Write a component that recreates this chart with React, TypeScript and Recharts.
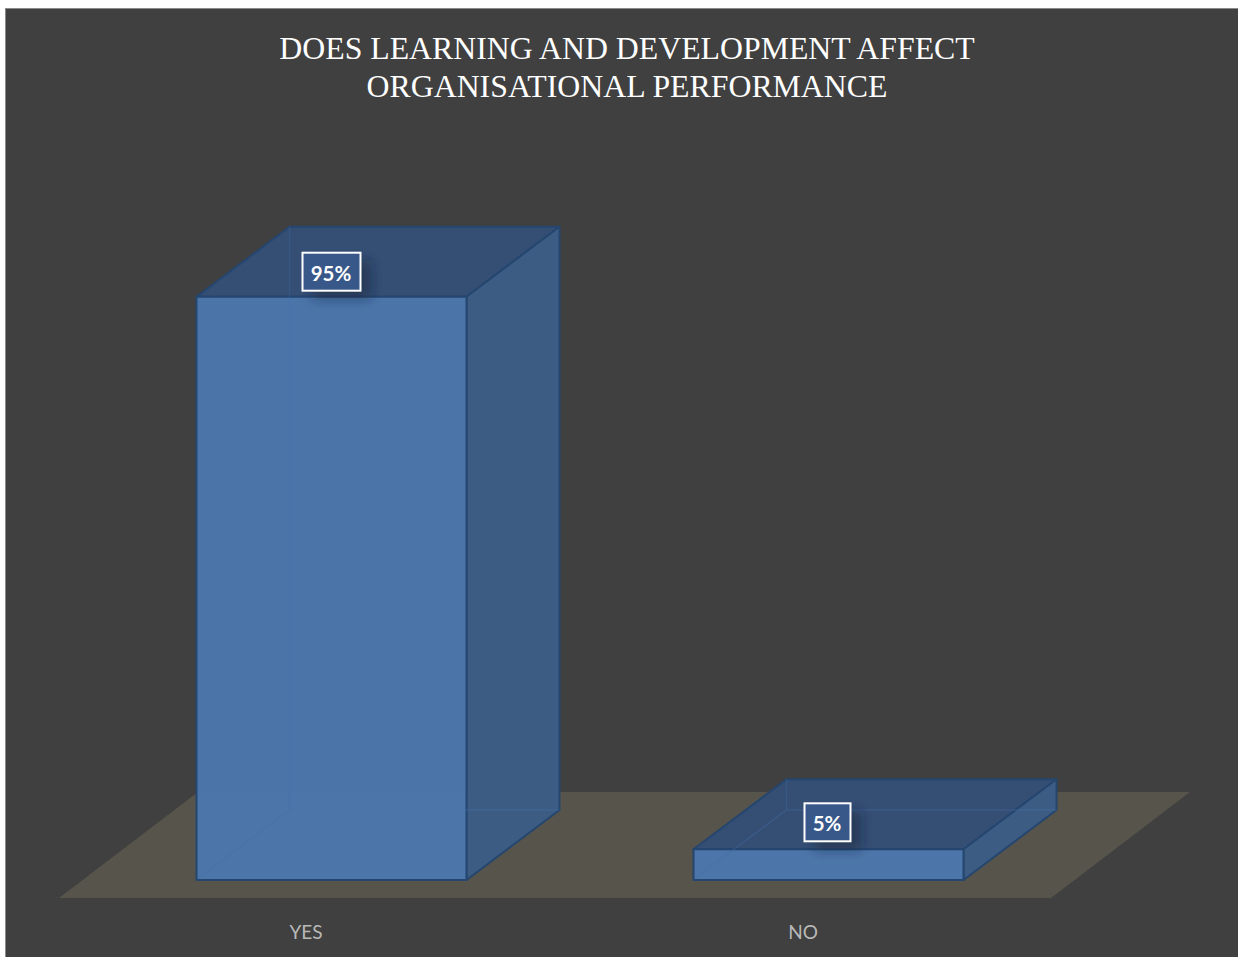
import React from "react";
import { Bar, BarChart, LabelList, XAxis, YAxis, usePlotArea } from "recharts";

const titleLines = ["DOES LEARNING AND DEVELOPMENT AFFECT", "ORGANISATIONAL PERFORMANCE"];
const categories = ["YES", "NO"];
const shares = [95, 5];

const rows = categories.map((category, i) => ({ category, share: shares[i] }));

const DEPTH_X = 93;
const DEPTH_Y = 70;
const EDGE = "#25466f";
const INNER_EDGE = "#4674ad";

// Flat beige floor that sits behind both boxes, skewed to match their depth.
function Floor() {
  const plot = usePlotArea();
  if (!plot) return null;
  const left = plot.x - 23.5;
  const right = plot.x + plot.width - 25.5;
  const front = plot.y + plot.height + 18;
  const back = plot.y + plot.height - 88;
  const skew = 139;
  return (
    <polygon
      points={`${left},${front} ${right},${front} ${right + skew},${back} ${left + skew},${back}`}
      fill="#57544b"
    />
  );
}

// Draws a bar as a translucent box: top, side, front, then the hidden rear edges.
function BoxBar(props: any) {
  const { x, y, width, height } = props;
  const r = x + width;
  const b = y + height;
  const dx = DEPTH_X;
  const dy = DEPTH_Y;
  return (
    <g strokeLinejoin="round">
      <polygon
        points={`${x},${y} ${r},${y} ${r + dx},${y - dy} ${x + dx},${y - dy}`}
        fill="#344f75"
        fillOpacity={0.98}
        stroke={EDGE}
        strokeWidth={2}
      />
      <polygon
        points={`${r},${y} ${r + dx},${y - dy} ${r + dx},${b - dy} ${r},${b}`}
        fill="#3c5d86"
        fillOpacity={0.97}
        stroke={EDGE}
        strokeWidth={2}
      />
      <rect x={x} y={y} width={width} height={height} fill="#4b76ab" fillOpacity={0.98} stroke={EDGE} strokeWidth={2} />
      <g fill="none" stroke={INNER_EDGE} strokeWidth={1.5}>
        <line x1={x + dx} y1={y - dy} x2={x + dx} y2={b - dy} strokeOpacity={0.28} />
        <line x1={x + dx} y1={b - dy} x2={r + dx} y2={b - dy} strokeOpacity={0.32} />
        <line x1={x + 2} y1={b - 2} x2={x + dx} y2={b - dy} strokeOpacity={0.35} />
      </g>
    </g>
  );
}

// Boxed percentage with a soft shadow, placed on the top face of its bar.
function ValueBadge(props: any) {
  const { x, y, width, value, index } = props;
  const text = `${value}%`;
  const w = text.length === 3 ? 58 : 46;
  const h = 38;
  const cx = x + width / 2 - (index === 1 ? 1 : 0);
  const cy = y - (index === 1 ? 28 : 25) + (index === 1 ? 1 : 0);
  return (
    <g>
      <rect x={cx - w / 2 + 10} y={cy - h / 2 + 8} width={w} height={h} fill="#14233a" fillOpacity={0.5} filter="url(#badgeShadow)" />
      <rect x={cx - w / 2} y={cy - h / 2} width={w} height={h} fill="#38588a" stroke="#ffffff" strokeWidth={2} />
      <text
        x={cx - 0.5}
        y={cy + 9}
        textAnchor="middle"
        fill="#ffffff"
        fontFamily="Lato, sans-serif"
        fontWeight={700}
        fontSize={20.5}
      >
        {text}
      </text>
    </g>
  );
}

function CategoryTick(props: any) {
  const { x, y, payload } = props;
  return (
    <text x={x - 25} y={y + 51} textAnchor="middle" fill="#b8b8b8" fontFamily="Lato, sans-serif" fontSize={19}>
      {payload.value}
    </text>
  );
}

export default function App() {
  return (
    <div style={{ position: "absolute", left: 0, top: 0, width: 1238, height: 957, overflow: "hidden", background: "#ffffff" }}>
      <div
        style={{
          position: "absolute",
          left: 5,
          top: 8,
          width: 1233,
          height: 949,
          boxSizing: "border-box",
          background: "#404040",
          borderLeft: "1px solid #8a8a8a",
          borderTop: "1px solid #8a8a8a",
        }}
      />
      <div style={{ position: "absolute", left: 0, top: 0 }}>
        <BarChart
          width={1238}
          height={957}
          data={rows}
          margin={{ top: 266, right: 161.5, bottom: 37, left: 82.5 }}
        >
          <defs>
            <filter id="badgeShadow" x="-50%" y="-50%" width="200%" height="200%">
              <feGaussianBlur stdDeviation="6" />
            </filter>
          </defs>
          <Floor />
          <XAxis dataKey="category" height={40} axisLine={false} tickLine={false} tick={CategoryTick} interval={0} />
          <YAxis hide domain={[0, 100]} />
          <Bar dataKey="share" barSize={270} shape={BoxBar} isAnimationActive={false}>
            <LabelList dataKey="share" content={ValueBadge} />
          </Bar>
          {titleLines.map((line, i) => (
            <text
              key={line}
              x={627}
              y={59 + i * 38}
              textAnchor="middle"
              fill="#ffffff"
              fontFamily="'Liberation Serif', serif"
              fontSize={31.8}
            >
              {line}
            </text>
          ))}
        </BarChart>
      </div>
    </div>
  );
}
